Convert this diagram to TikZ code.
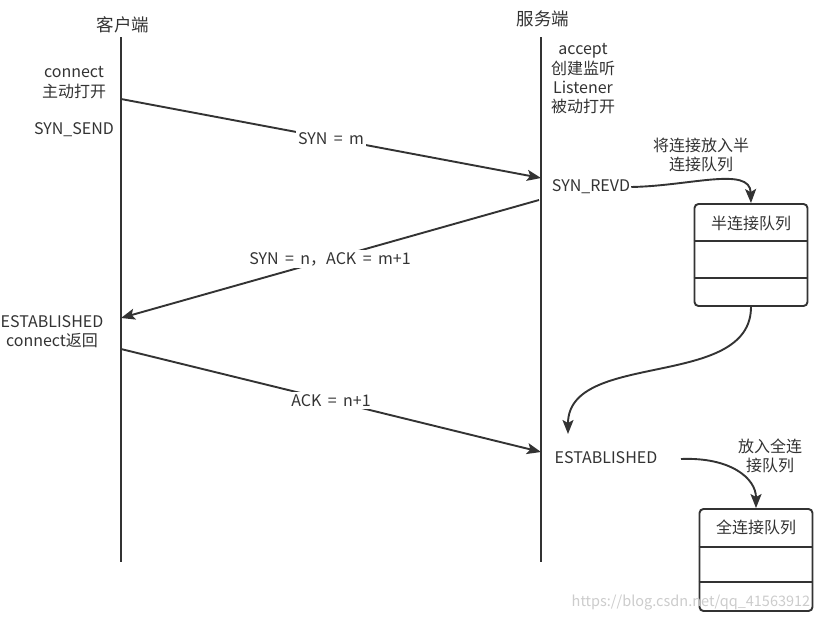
\documentclass[tikz,border=0pt]{standalone}
\usepackage{fontspec}
\setmainfont[WordSpace=1.8]{Noto Sans CJK SC}
\usetikzlibrary{arrows.meta}
\definecolor{ink}{HTML}{333333}
\begin{document}
\begin{tikzpicture}[x=1pt,y=-1pt,
  every node/.style={font=\fontsize{16}{19.3}\selectfont, text=ink, inner sep=1pt},
  title/.style={font=\fontsize{17.5}{20}\selectfont},
  life/.style={draw=ink, line width=1.9pt},
  msg/.style={draw=ink, line width=1.9pt, -{Stealth[length=14pt,width=11pt,inset=3pt]}},
  lbl/.style={fill=white, inner sep=2pt},
  multi/.style={align=center},
  queue/.style={draw=ink, line width=1.9pt, rounded corners=4pt, minimum width=113pt, inner sep=0pt},
  wmark/.style={text=gray!40, font=\fontsize{14.5}{16}\selectfont}
]
\useasboundingbox (0,0) rectangle (823,621);
\fill[white] (0,0) rectangle (823,621);

% titles
\node[title] (client) at (123,25) {客户端};
\node[title] (server) at (543,19) {服务端};

% lifelines
\coordinate (ctop) at (121,37);
\coordinate (cbot) at (121,562);
\coordinate (stop) at (541,37);
\coordinate (sbot) at (541,562);
\draw[life] (ctop) -- (cbot);
\draw[life] (stop) -- (sbot);

% client annotations
\node[multi] (copen) at (74,82.5) {connect\\主动打开};
\node (synsend) at (74,130) {SYN\_SEND};
\node[multi] (cest) at (52,331.5) {ESTABLISHED\\connect返回};

% server annotations
\node[multi] (sopen) at (583,79) {accept\\创建监听\\Listener\\被动打开};
\node (synrevd) at (591,187) {SYN\_REVD};
\node (sest) at (606,458) {ESTABLISHED};

% messages
\coordinate (c1) at (121,99);
\coordinate (s1) at (541,178);
\coordinate (s2) at (539,200);
\coordinate (c2) at (121,318);
\coordinate (c3) at (121,349);
\coordinate (s3) at (541,452);
\draw[msg] (c1) -- node[lbl, midway] (m1) {SYN = m} (s1);
\draw[msg] (s2) -- node[lbl, midway] (m2) {SYN = n，ACK = m+1} (c2);
\draw[msg] (c3) -- node[lbl, midway] (m3) {ACK = n+1} (s3);

% half-connection queue
\node[queue, minimum height=102pt] (hq) at (751,255) {};
\node (hqt) at (751,223) {半连接队列};
\draw[draw=ink, line width=1.9pt] (hq.west |- 0,241) -- (hq.east |- 0,241);
\draw[draw=ink, line width=1.9pt] (hq.west |- 0,278) -- (hq.east |- 0,278);
\node[multi] (hqlbl) at (701,155) {将连接放入半\\连接队列};

% full-connection queue
\node[queue, minimum height=102pt] (fq) at (756,560) {};
\node (fqt) at (756,527) {全连接队列};
\draw[draw=ink, line width=1.9pt] (fq.west |- 0,547) -- (fq.east |- 0,547);
\draw[draw=ink, line width=1.9pt] (fq.west |- 0,582) -- (fq.east |- 0,582);
\node[multi] (fqlbl) at (770,456) {放入全连\\接队列};

% state transitions
\draw[msg] (synrevd.east) .. controls (690,186) and (750,166) .. (hq.north);
\coordinate (toest) at (568,434);
\draw[msg] (hq.south) .. controls (751,390) and (568,350) .. (toest);
\coordinate (fromest) at (681,459);
\draw[msg] (fromest) .. controls (730,457) and (756,478) .. (fq.north);

% watermark
\node[wmark] (wm) at (691,603) {https://blog.csdn.net/qq\_41563912};
\end{tikzpicture}
\end{document}
